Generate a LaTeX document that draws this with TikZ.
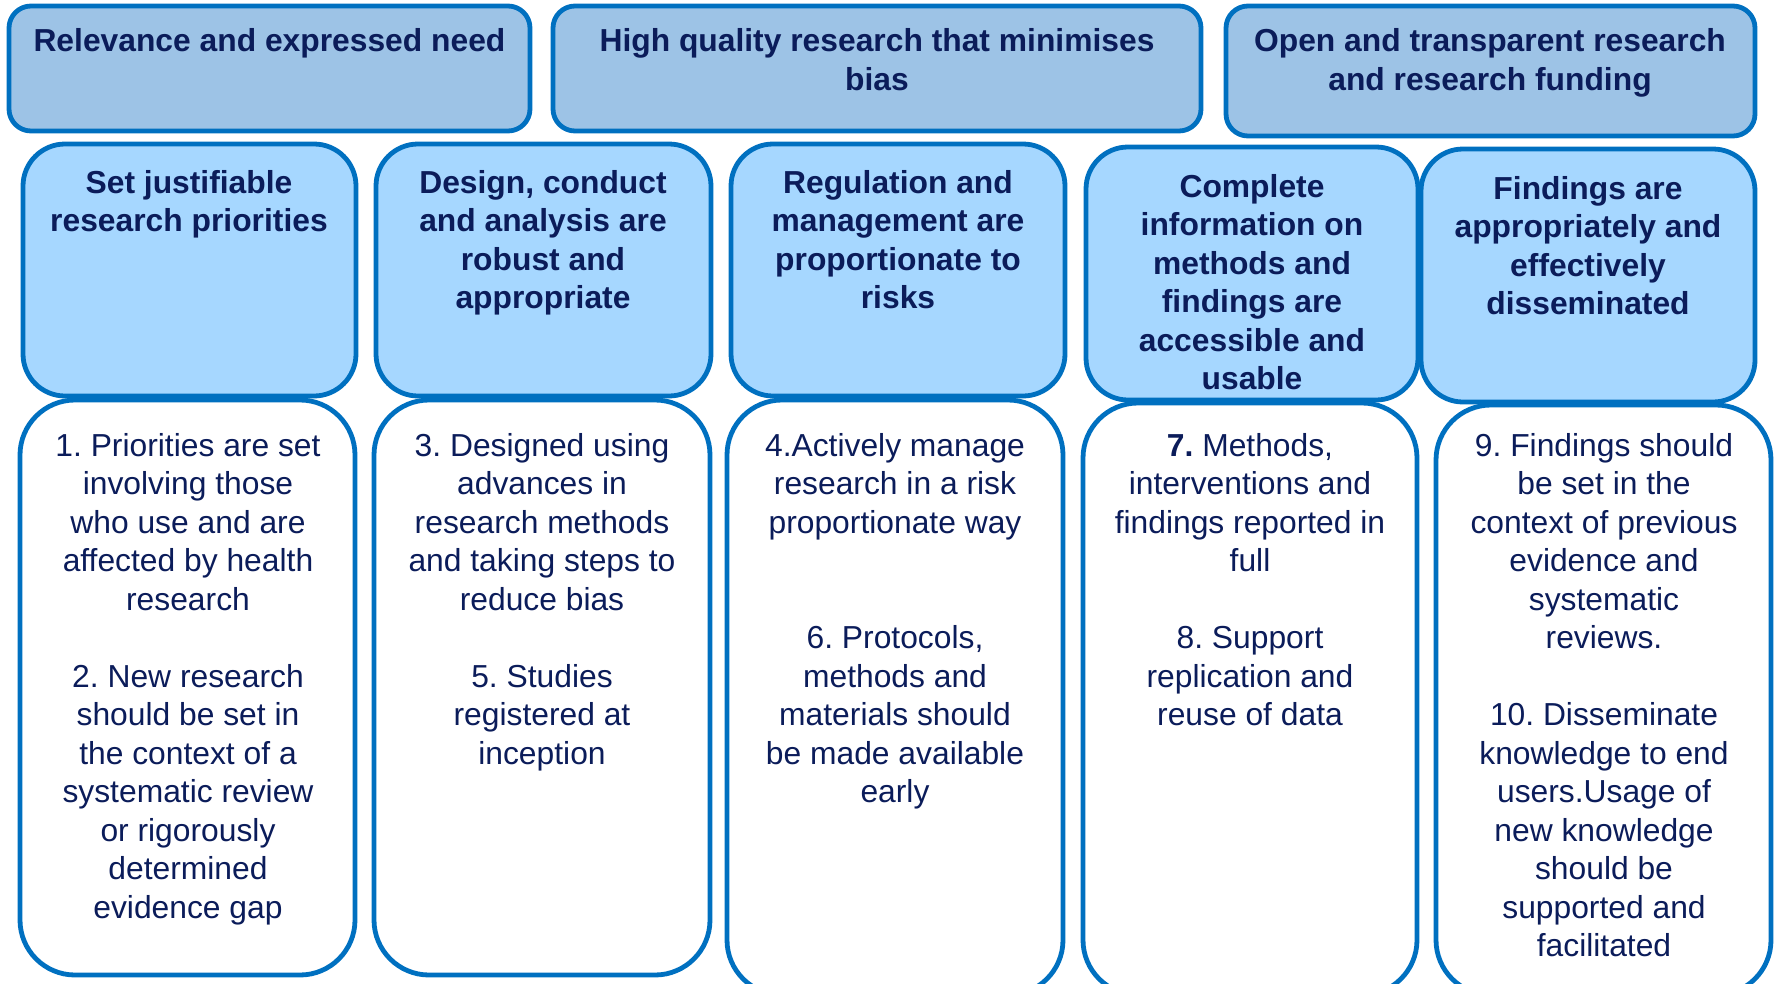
\documentclass[tikz,border=0pt]{standalone}
\usepackage{fontspec}
\setmainfont{Liberation Sans}
\frenchspacing
\definecolor{bord}{HTML}{0070C0}
\definecolor{topfill}{HTML}{9DC3E6}
\definecolor{headfill}{HTML}{A6D7FF}
\definecolor{navy}{HTML}{0B1C5A}
\begin{document}
\frenchspacing
\begin{tikzpicture}[x=1pt,y=-1pt,
  topbox/.style={draw=bord, line width=4.8pt, fill=topfill, rounded corners=22pt, inner sep=0pt},
  headbox/.style={draw=bord, line width=4.8pt, fill=headfill, rounded corners=42pt, inner sep=0pt},
  bodybox/.style={draw=bord, line width=4.8pt, fill=white, rounded corners=55pt, inner sep=0pt},
  txt/.style={anchor=base, inner sep=0pt, text=navy, font=\fontsize{31.8}{38.5}\selectfont\frenchspacing}]
\useasboundingbox (0,0) rectangle (1777,983);
\clip (0,0) rectangle (1777,983);

% body boxes
\node[bodybox, minimum width=335, minimum height=575] (b1) at (187.5,687.5) {};
\node[bodybox, minimum width=336, minimum height=575] (b2) at (542,687.5) {};
\node[bodybox, minimum width=336, minimum height=595] (b3) at (895,697.5) {};
\node[bodybox, minimum width=334, minimum height=592] (b4) at (1250,699) {};
\node[bodybox, minimum width=335, minimum height=590] (b5) at (1603.5,700) {};

% header boxes
\node[headbox, minimum width=333, minimum height=252] (h1) at (189.5,270) {};
\node[headbox, minimum width=335, minimum height=252] (h2) at (543.5,270) {};
\node[headbox, minimum width=334, minimum height=252] (h3) at (898,270) {};
\node[headbox, minimum width=332, minimum height=253] (h4) at (1252,273.5) {};
\node[headbox, minimum width=334, minimum height=253] (h5) at (1588,275.5) {};

% top boxes
\node[topbox, minimum width=521, minimum height=125] (t1) at (269.5,68.5) {};
\node[topbox, minimum width=648, minimum height=125] (t2) at (877,68.5) {};
\node[topbox, minimum width=529, minimum height=130] (t3) at (1490.5,71) {};

% top texts
\node[txt] (t1t) at (269.5,51.5) {\parbox[t]{600pt}{\centering\bfseries Relevance and expressed need}};
\node[txt] (t2t) at (877,51.5) {\parbox[t]{700pt}{\centering\bfseries High quality research that minimises\\ bias}};
\node[txt] (t3t) at (1490,51.5) {\parbox[t]{600pt}{\centering\bfseries Open and transparent research\\ and research funding}};

% header texts
\node[txt] (h1t) at (189,193) {\parbox[t]{400pt}{\centering\bfseries Set justifiable\\ research priorities}};
\node[txt] (h2t) at (543,193) {\parbox[t]{400pt}{\centering\bfseries Design, conduct\\ and analysis are\\ robust and\\ appropriate}};
\node[txt] (h3t) at (898,193) {\parbox[t]{400pt}{\centering\bfseries Regulation and\\ management are\\ proportionate to\\ risks}};
\node[txt] (h4t) at (1252,197) {\parbox[t]{400pt}{\centering\bfseries Complete\\ information on\\ methods and\\ findings are\\ accessible and\\ usable}};
\node[txt] (h5t) at (1588,199) {\parbox[t]{400pt}{\centering\bfseries Findings are\\ appropriately and\\ effectively\\ disseminated}};

% body texts
\node[txt] (b1t) at (188,456) {\parbox[t]{400pt}{\centering 1. Priorities are set\\ involving those\\ who use and are\\ affected by health\\ research\\ \mbox{}\\ 2. New research\\ should be set in\\ the context of a\\ systematic review\\ or rigorously\\ determined\\ evidence gap}};
\node[txt] (b2t) at (542,456) {\parbox[t]{400pt}{\centering 3. Designed using\\ advances in\\ research methods\\ and taking steps to\\ reduce bias\\ \mbox{}\\ 5. Studies\\ registered at\\ inception}};
\node[txt] (b3t) at (895,456) {\parbox[t]{400pt}{\centering 4.Actively manage\\ research in a risk\\ proportionate way\\ \mbox{}\\ \mbox{}\\ 6. Protocols,\\ methods and\\ materials should\\ be made available\\ early}};
\node[txt] (b4t) at (1250,456) {\parbox[t]{400pt}{\centering \textbf{7.} Methods,\\ interventions and\\ findings reported in\\ full\\ \mbox{}\\ 8. Support\\ replication and\\ reuse of data}};
\node[txt] (b5t) at (1604,456) {\parbox[t]{400pt}{\centering 9. Findings should\\ be set in the\\ context of previous\\ evidence and\\ systematic\\ reviews.\\ \mbox{}\\ 10. Disseminate\\ knowledge to end\\ users.Usage of\\ new knowledge\\ should be\\ supported and\\ facilitated}};
\end{tikzpicture}
\end{document}
